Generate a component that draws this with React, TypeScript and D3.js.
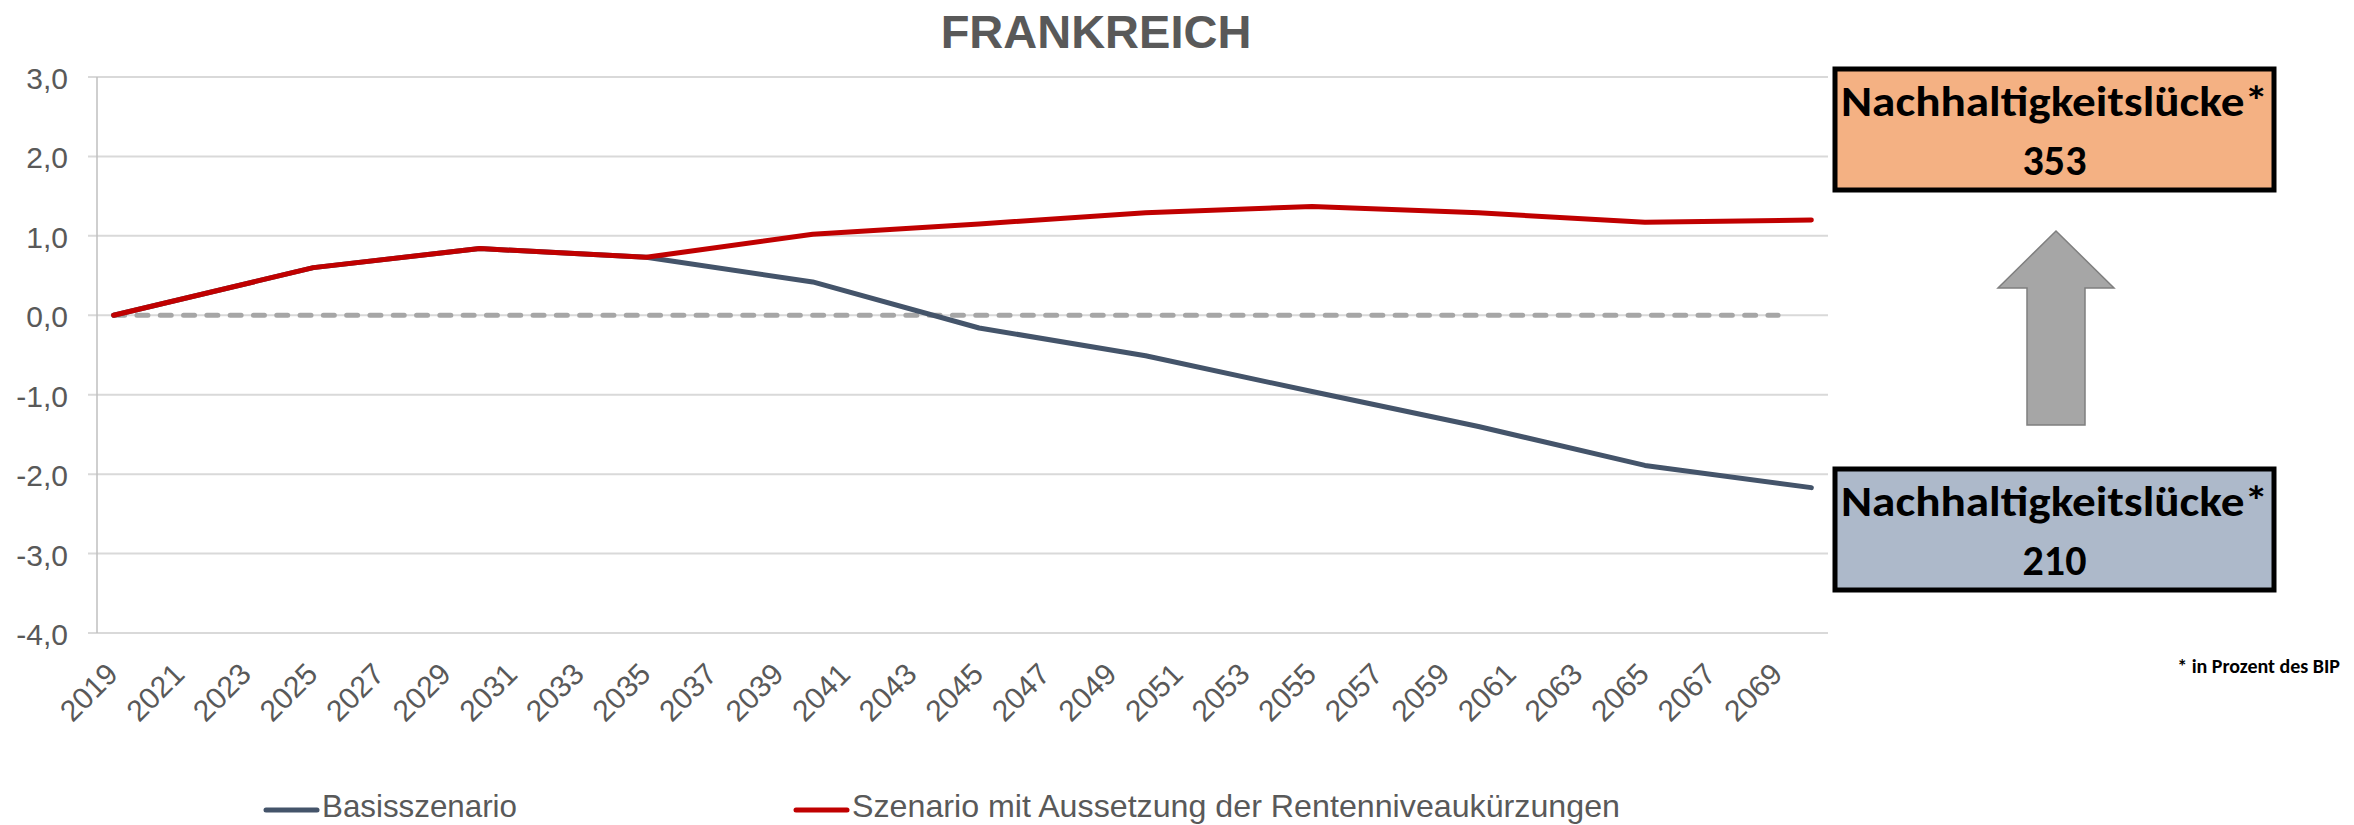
import * as d3 from "d3";
import { useEffect, useRef } from "react";

// Kategorien der x-Achse (jedes Jahr, beschriftet wird jedes zweite)
const years = d3.range(2019, 2071).map(String);
const tickYears = years.filter((_, i) => i % 2 === 0);

// Stützjahre der beiden Reihen
const pointYears = ["2019", "2025", "2030", "2035", "2040", "2045", "2050", "2055", "2060", "2065", "2070"];
const basisszenario = [0, 0.6, 0.84, 0.73, 0.42, -0.16, -0.51, -0.96, -1.4, -1.89, -2.17];
const aussetzung = [0, 0.6, 0.84, 0.73, 1.02, 1.15, 1.29, 1.37, 1.29, 1.17, 1.2];

// gestrichelte Nulllinie
const zeroYears = ["2019", "2069"];
const zeroValues = [0, 0];

const yTicks = [3, 2, 1, 0, -1, -2, -3, -4];

const legendNames = ["Basisszenario", "Szenario mit Aussetzung der Rentenniveaukürzungen"];
const gapLabels = ["353", "210"];

const W = 2354;
const H = 825;
const axisFont = "'Liberation Sans', Arial, sans-serif";
const boxFont = "Carlito, Calibri, Lato, sans-serif";

const App = () => {
  const svgRef = useRef(null);

  useEffect(() => {
    const svg = d3.select(svgRef.current);
    svg.selectAll("*").remove();

    const x = d3.scaleBand().domain(years).range([97, 1828]).padding(0);
    const cx = (d) => x(d) + x.bandwidth() / 2;
    const y = d3.scaleLinear().domain([-4, 3]).range([633, 77]);

    // Titel
    svg
      .append("text")
      .attr("x", 1096)
      .attr("y", 48)
      .attr("text-anchor", "middle")
      .attr("font-family", axisFont)
      .attr("font-weight", "bold")
      .attr("font-size", 47)
      .attr("fill", "#595959")
      .text("FRANKREICH");

    // Gitterlinien
    svg
      .append("g")
      .selectAll("line")
      .data(yTicks)
      .enter()
      .append("line")
      .attr("x1", 88)
      .attr("x2", 1828)
      .attr("y1", (d) => y(d))
      .attr("y2", (d) => y(d))
      .attr("stroke", "#D9D9D9")
      .attr("stroke-width", 2);

    svg
      .append("line")
      .attr("x1", 97)
      .attr("x2", 97)
      .attr("y1", y(3))
      .attr("y2", y(-4))
      .attr("stroke", "#BFBFBF")
      .attr("stroke-width", 1.5);

    // y-Beschriftung
    svg
      .append("g")
      .selectAll("text")
      .data(yTicks)
      .enter()
      .append("text")
      .attr("x", 68)
      .attr("y", (d) => y(d) + 12)
      .attr("text-anchor", "end")
      .attr("font-family", axisFont)
      .attr("font-size", 30)
      .attr("fill", "#595959")
      .text((d) => d3.format(".1f")(d).replace(".", ",").replace("−", "-"));

    // x-Beschriftung
    svg
      .append("g")
      .selectAll("text")
      .data(tickYears)
      .enter()
      .append("text")
      .attr("transform", (d) => `translate(${cx(d) + 6},676) rotate(-45)`)
      .attr("text-anchor", "end")
      .attr("font-family", axisFont)
      .attr("font-size", 30)
      .attr("fill", "#595959")
      .text((d) => d);

    const line = d3
      .line()
      .x((d) => cx(d[0]))
      .y((d) => y(d[1]));

    svg
      .append("path")
      .attr("d", line(d3.zip(zeroYears, zeroValues)))
      .attr("fill", "none")
      .attr("stroke", "#A6A6A6")
      .attr("stroke-width", 5)
      .attr("stroke-linecap", "round")
      .attr("stroke-dasharray", "11 12.3");

    svg
      .append("path")
      .attr("d", line(d3.zip(pointYears, basisszenario)))
      .attr("fill", "none")
      .attr("stroke", "#44546A")
      .attr("stroke-width", 5)
      .attr("stroke-linejoin", "round")
      .attr("stroke-linecap", "round");

    svg
      .append("path")
      .attr("d", line(d3.zip(pointYears, aussetzung)))
      .attr("fill", "none")
      .attr("stroke", "#C00000")
      .attr("stroke-width", 5)
      .attr("stroke-linejoin", "round")
      .attr("stroke-linecap", "round");

    // Legende
    const legendColors = ["#44546A", "#C00000"];
    const legendX = [264, 794];
    const legendWidths = [195, 768];
    const lg = svg
      .append("g")
      .selectAll("g")
      .data(legendNames)
      .enter()
      .append("g")
      .attr("transform", (d, i) => `translate(${legendX[i]},810)`);
    lg.append("line")
      .attr("x1", 2)
      .attr("x2", 53)
      .attr("stroke", (d, i) => legendColors[i])
      .attr("stroke-width", 5)
      .attr("stroke-linecap", "round");
    lg.append("text")
      .attr("x", 58)
      .attr("y", 7)
      .attr("font-family", axisFont)
      .attr("font-size", 30.5)
      .attr("textLength", (d, i) => legendWidths[i])
      .attr("lengthAdjust", "spacingAndGlyphs")
      .attr("fill", "#595959")
      .text((d) => d);

    // Kästen Nachhaltigkeitslücke
    const boxTops = [67, 467];
    const boxFills = ["#F4B183", "#ADB9CA"];
    const boxes = svg
      .append("g")
      .selectAll("g")
      .data(gapLabels)
      .enter()
      .append("g")
      .attr("transform", (d, i) => `translate(1835,${boxTops[i] + 2})`);
    boxes
      .append("rect")
      .attr("width", 439)
      .attr("height", 121)
      .attr("fill", (d, i) => boxFills[i])
      .attr("stroke", "#000")
      .attr("stroke-width", 5);
    boxes
      .append("text")
      .attr("x", 219.5)
      .attr("y", 47)
      .attr("text-anchor", "middle")
      .attr("font-family", boxFont)
      .attr("font-weight", "bold")
      .attr("font-size", 43)
      .attr("textLength", 427)
      .attr("lengthAdjust", "spacingAndGlyphs")
      .attr("fill", "#000")
      .text("Nachhaltigkeitslücke*");
    boxes
      .append("text")
      .attr("x", 219.5)
      .attr("y", 106)
      .attr("text-anchor", "middle")
      .attr("font-family", boxFont)
      .attr("font-weight", "bold")
      .attr("font-size", 42)
      .attr("fill", "#000")
      .text((d) => d);

    // Pfeil
    svg
      .append("polygon")
      .attr(
        "points",
        "2056,231 2114,288 2085,288 2085,425 2027,425 2027,288 1998,288"
      )
      .attr("fill", "#A6A6A6")
      .attr("stroke", "#7F7F7F")
      .attr("stroke-width", 1.5);

    // Fußnote
    svg
      .append("text")
      .attr("x", 2340)
      .attr("y", 673)
      .attr("text-anchor", "end")
      .attr("font-family", boxFont)
      .attr("font-weight", "bold")
      .attr("font-size", 20)
      .attr("fill", "#000")
      .text("* in Prozent des BIP");
  }, []);

  return (
    <div>
      <svg
        ref={svgRef}
        width={W}
        height={H}
        style={{ position: "absolute", left: 0, top: 0, background: "#fff" }}
      ></svg>
    </div>
  );
};

export default App;
